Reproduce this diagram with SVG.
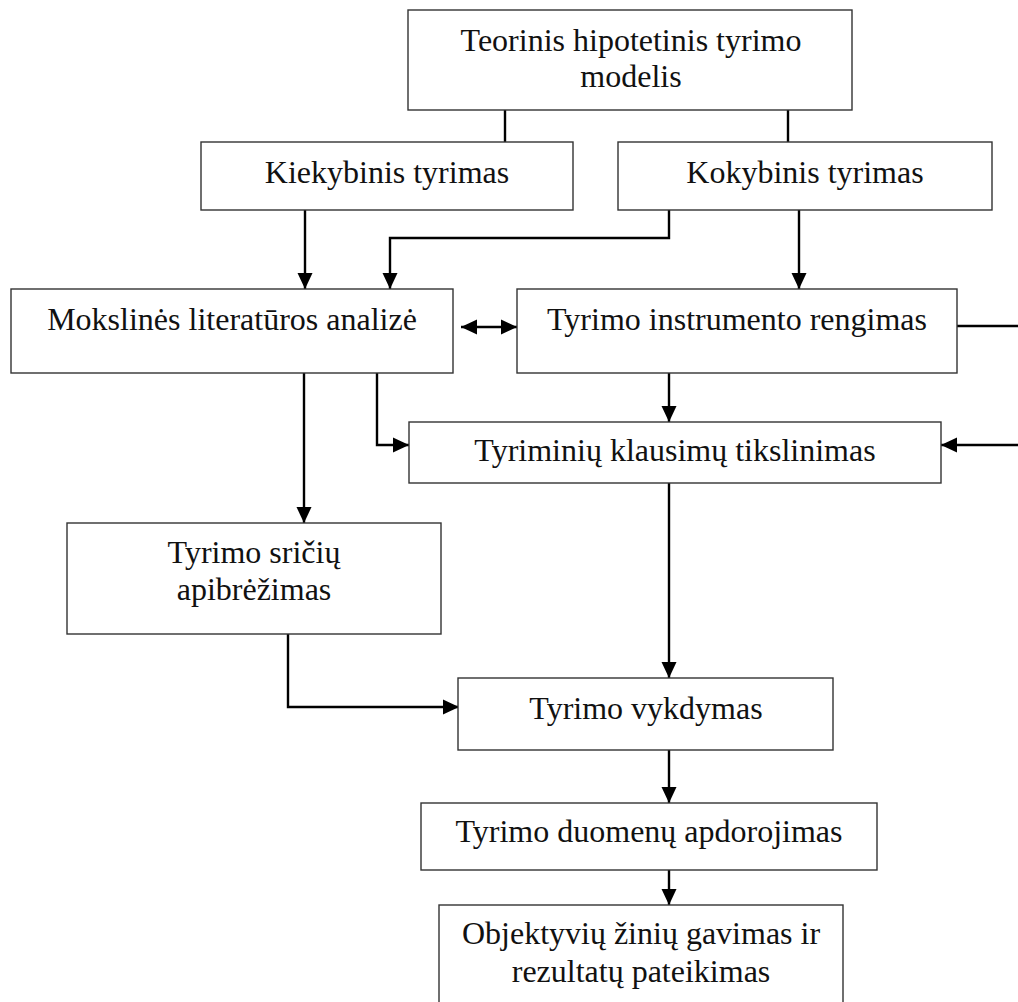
<svg xmlns="http://www.w3.org/2000/svg" width="1018" height="1002" viewBox="0 0 1018 1002">
<style>
.box{fill:#fff;stroke:#333;stroke-width:1.4}
.lbl{font-family:"Liberation Serif","Times New Roman",serif;font-size:32px;fill:#111;text-anchor:middle}
.c{fill:none;stroke:#000;stroke-width:2.4}
.ca{fill:none;stroke:#000;stroke-width:2.4;marker-end:url(#ah)}
</style>
<defs>
<marker id="ah" viewBox="0 0 16 16" refX="16" refY="8" markerWidth="16" markerHeight="16" markerUnits="userSpaceOnUse" orient="auto-start-reverse">
<path d="M0,0.5 L16,8 L0,15.5 Z" fill="#000"/>
</marker>
</defs>
<rect width="1018" height="1002" fill="#fff"/>
<g id="connectors">
<path class="c" d="M505,110 V142"/>
<path class="c" d="M788,110 V142"/>
<path class="ca" d="M305,210 V289"/>
<path class="ca" d="M669,210 V238 H390 V289"/>
<path class="ca" d="M799,210 V289"/>
<path class="ca" d="M461,327 H517" marker-start="url(#ah)"/>
<path class="c" d="M957,326 H1018"/>
<path class="ca" d="M1018,445 H941"/>
<path class="ca" d="M669,373 V422"/>
<path class="ca" d="M304,373 V523"/>
<path class="ca" d="M377,373 V445 H409"/>
<path class="ca" d="M669,483 V678"/>
<path class="ca" d="M288,634 V707 H459"/>
<path class="ca" d="M669,750 V803"/>
<path class="ca" d="M669,870 V905"/>
</g>
<g id="n-teorinis">
<rect class="box" x="408" y="10" width="444" height="100"/>
<text class="lbl" x="631" y="51">Teorinis hipotetinis tyrimo</text>
<text class="lbl" x="631" y="87">modelis</text>
</g>
<g id="n-kiekybinis">
<rect class="box" x="201" y="142" width="372" height="68"/>
<text class="lbl" x="387" y="183">Kiekybinis tyrimas</text>
</g>
<g id="n-kokybinis">
<rect class="box" x="618" y="142" width="374" height="68"/>
<text class="lbl" x="805" y="183">Kokybinis tyrimas</text>
</g>
<g id="n-mokslines">
<rect class="box" x="11" y="289" width="442" height="84"/>
<text class="lbl" x="232" y="330">Mokslinės literatūros analizė</text>
</g>
<g id="n-instrumento">
<rect class="box" x="517" y="289" width="440" height="84"/>
<text class="lbl" x="737" y="330">Tyrimo instrumento rengimas</text>
</g>
<g id="n-tyriminiu">
<rect class="box" x="409" y="422" width="532" height="61"/>
<text class="lbl" x="675" y="461">Tyriminių klausimų tikslinimas</text>
</g>
<g id="n-sriciu">
<rect class="box" x="67" y="523" width="374" height="111"/>
<text class="lbl" x="254" y="563">Tyrimo sričių</text>
<text class="lbl" x="254" y="600">apibrėžimas</text>
</g>
<g id="n-vykdymas">
<rect class="box" x="458" y="678" width="375" height="72"/>
<text class="lbl" x="646" y="719">Tyrimo vykdymas</text>
</g>
<g id="n-duomenu">
<rect class="box" x="421" y="803" width="456" height="67"/>
<text class="lbl" x="649" y="842">Tyrimo duomenų apdorojimas</text>
</g>
<g id="n-objektyviu">
<rect class="box" x="439" y="905" width="404" height="110"/>
<text class="lbl" x="641" y="944">Objektyvių žinių gavimas ir</text>
<text class="lbl" x="641" y="982">rezultatų pateikimas</text>
</g>
</svg>
